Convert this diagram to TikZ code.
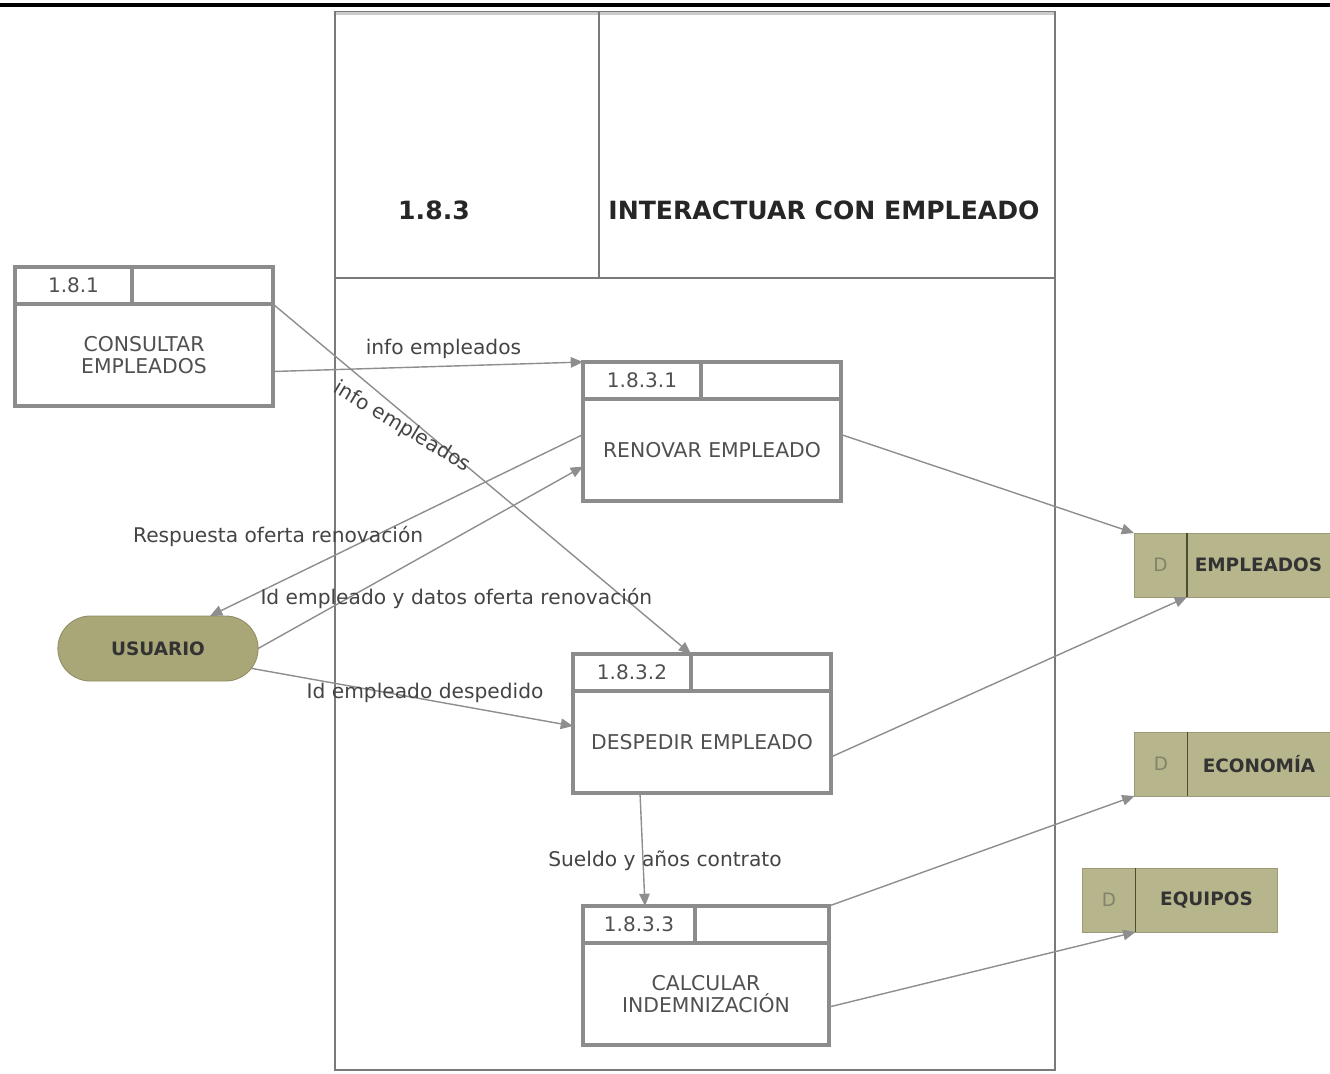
\documentclass[tikz,border=0pt]{standalone}
\usepackage{fontspec}
\setmainfont{DejaVu Sans}
\usetikzlibrary{positioning,arrows.meta,shapes.misc}
\definecolor{boxgray}{HTML}{8C8C8C}
\definecolor{flowgray}{HTML}{8E8E8E}
\definecolor{framegray}{HTML}{7A7A7A}
\definecolor{boxtext}{HTML}{505050}
\definecolor{lbltext}{HTML}{444444}
\definecolor{storefill}{HTML}{B7B58C}
\definecolor{userfill}{HTML}{A9A777}
\definecolor{storeline}{HTML}{4E4E2C}
\tikzset{node distance=1cm, auto,
  procbody/.style={draw=boxgray, line width=2.5pt, outer sep=0pt, inner sep=0pt,
    minimum width=5.16cm, minimum height=2.04cm, align=center, text=boxtext,
    font=\fontsize{11.6}{13}\selectfont},
  prochead/.style={draw=boxgray, line width=2.5pt, outer sep=0pt, inner sep=0pt,
    minimum width=2.36cm, minimum height=0.74cm, text=boxtext,
    font=\fontsize{11.4}{13}\selectfont},
  procline/.style={draw=boxgray, line width=2.5pt},
  storeid/.style={fill=storefill, draw=storefill!85!black, line width=0.4pt,
    outer sep=0pt, minimum width=1.06cm, minimum height=1.28cm, text=storeline!70,
    font=\fontsize{10.5}{12}\selectfont},
  storename/.style={fill=storefill, draw=storefill!85!black, line width=0.4pt,
    outer sep=0pt, minimum width=2.86cm, minimum height=1.28cm, text=black!80,
    font=\bfseries\fontsize{10.5}{12}\selectfont},
  storediv/.style={draw=storeline, line width=1pt},
  entity/.style={shape=rounded rectangle, fill=userfill, draw=userfill!85!black,
    line width=0.5pt, outer sep=0pt, minimum width=4.24cm, minimum height=1.3cm,
    text=black!80, font=\bfseries\fontsize{10.5}{12}\selectfont},
  titletext/.style={text=black!85, font=\bfseries\fontsize{14.3}{16}\selectfont},
  flow/.style={draw=flowgray, line width=0.8pt, -{Triangle[length=7pt,width=6pt]}},
  lbl/.style={anchor=center, inner sep=1pt, text=lbltext,
    font=\fontsize{11.5}{13}\selectfont}}
\begin{document}
\begin{tikzpicture}[x=0.02cm,y=-0.02cm]
\useasboundingbox (0,0) rectangle (1330,1073);
\draw[line width=1.8pt] (0,5) -- (1330,5);

% frame of process 1.8.3
\draw[framegray, line width=0.6pt] (335,12) rectangle (1055,1070);
\draw[black!20, line width=2pt] (336,13.5) -- (1054,13.5);
\draw[framegray, line width=0.6pt] (335,278) -- (1055,278) (599,12) -- (599,278);
\node[titletext] (frameid) at (434,210) {1.8.3};
\node[titletext] (frametitle) at (824,210) {INTERACTUAR CON EMPLEADO};

% processes
\node[procbody] (consultar) at (144,355) {CONSULTAR\\EMPLEADOS};
\node[prochead, minimum width=2.34cm, above right=0cm of consultar.north west] (consultarid) {1.8.1};
\draw[procline] (consultarid.north east) -| (consultar.north east);

\node[procbody] (renovar) at (712,450) {RENOVAR EMPLEADO};
\node[prochead, above right=0cm of renovar.north west] (renovarid) {1.8.3.1};
\draw[procline] (renovarid.north east) -| (renovar.north east);

\node[procbody] (despedir) at (702,742) {DESPEDIR EMPLEADO};
\node[prochead, above right=0cm of despedir.north west] (despedirid) {1.8.3.2};
\draw[procline] (despedirid.north east) -| (despedir.north east);

\node[procbody, minimum width=4.92cm] (calcular) at (706,994) {CALCULAR\\INDEMNIZACIÓN};
\node[prochead, minimum width=2.24cm, above right=0cm of calcular.north west] (calcularid) {1.8.3.3};
\draw[procline] (calcularid.north east) -| (calcular.north east);

% data stores
\node[storeid] (empleadosd) at (1160.5,565) {D};
\node[storename, right=0cm of empleadosd] (empleados) {EMPLEADOS};
\draw[storediv] (empleados.north west) -- (empleados.south west);

\node[storeid] (economiad) at (1161,764) {D};
\node[storename, right=0cm of economiad] (economia) {ECONOMÍA};
\draw[storediv] (economia.north west) -- (economia.south west);

\node[storeid] (equiposd) at (1109,900) {D};
\node[storename, minimum width=2.84cm, right=0cm of equiposd] (equipos) {EQUIPOS};
\draw[storediv] (equipos.north west) -- (equipos.south west);

% external entity
\node[entity] (usuario) at (158,648.5) {USUARIO};

% flows
\draw[flow] ([yshift=-0.33cm]consultar.east) to node[lbl, pos=0.55, yshift=0.34cm] {info empleados} (renovarid.north west);
\draw[flow] (consultar.north east) to node[lbl, pos=0.309, yshift=-0.3cm, rotate=-31] {info empleados} (despedirid.north east);
\draw[flow] ([yshift=0.31cm]renovar.west) to node[lbl, pos=0.56, xshift=-1.92cm] {Respuesta oferta renovación} (usuario.32);
\draw[flow] (usuario.east) to node[lbl, pos=0.61, yshift=-1.23cm] {Id empleado y datos oferta renovación} ([yshift=-0.33cm]renovar.west);
\draw[flow] (usuario.-12) to node[lbl, pos=0.54, yshift=0.14cm] {Id empleado despedido} ([yshift=0.32cm]despedir.west);
\draw[flow] ([yshift=0.31cm]renovar.east) -- (empleadosd.north west);
\draw[flow] ([yshift=-0.3cm]despedir.east) -- (empleadosd.south east);
\draw[flow] ([xshift=-1.24cm]despedir.south) to node[lbl, pos=0.6, xshift=0.44cm] {Sueldo y años contrato} ([xshift=0.12cm]calcularid.north);
\draw[flow] (calcularid.north -| calcular.east) -- (economiad.south west);
\draw[flow] ([yshift=-0.26cm]calcular.east) -- (equiposd.south east);
\end{tikzpicture}
\end{document}
